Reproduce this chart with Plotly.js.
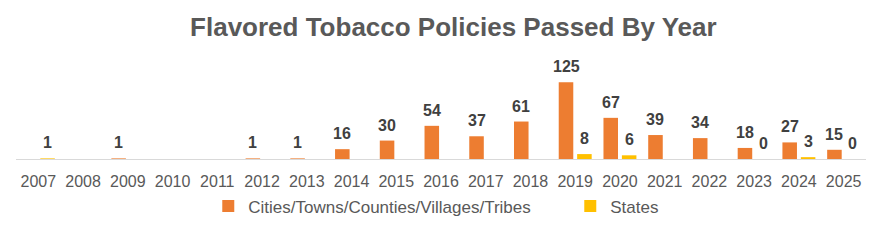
<!DOCTYPE html>
<html>
<head>
<meta charset="utf-8">
<script src="https://cdn.plot.ly/plotly-3.0.1.min.js"></script>
<style>html,body{margin:0;padding:0;background:#fff;}#chart{width:882px;height:250px;}</style>
</head>
<body>
<div id="chart"></div>
<script>
const years = ['2007','2008','2009','2010','2011','2012','2013','2014','2015','2016','2017','2018','2019','2020','2021','2022','2023','2024','2025'];
const cities = [null,null,1,null,null,1,1,16,30,54,37,61,125,67,39,34,18,27,15];
const states = [1,null,null,null,null,null,null,null,null,null,null,null,8,6,null,null,0,3,0];
const seriesNames = ['Cities/Towns/Counties/Villages/Tribes','States'];
const seriesColors = ['#ED7D31','#FFC000'];
const legendWidths = [317, 50];

const FONT = 'Liberation Sans, Arial, sans-serif';
const traces = [cities, states].map((vals, k) => ({
  type: 'bar',
  name: seriesNames[k],
  x: years,
  y: vals,
  marker: {color: seriesColors[k]},
  legendwidth: legendWidths[k],
  hoverinfo: 'skip'
}));

const annotations = [];
[cities, states].forEach((vals, k) => {
  vals.forEach((v, i) => {
    if (v === null) return;
    annotations.push({
      x: i, y: v, xref: 'x', yref: 'y',
      xshift: k === 0 ? -9.2 : 9.2, yshift: 5,
      yanchor: 'bottom', showarrow: false,
      text: String(v),
      font: {family: FONT, size: 16, color: '#404040', weight: 'bold'}
    });
  });
});

const layout = {
  width: 882, height: 250,
  margin: {l: 16, r: 16, t: 73, b: 91},
  paper_bgcolor: '#ffffff', plot_bgcolor: '#ffffff',
  title: {text: '<b>Flavored Tobacco Policies Passed By Year</b>', x: 0.514, xanchor: 'center', y: 0.892, yanchor: 'middle',
          font: {family: FONT, size: 26, color: '#595959'}},
  barmode: 'group', bargap: 0.177, bargroupgap: 0.21,
  xaxis: {type: 'category', range: [-0.5, years.length - 0.5], showline: true, linecolor: '#d9d9d9', linewidth: 1, ticks: '', showgrid: false,
          tickfont: {family: FONT, size: 16, color: '#595959'}, ticklabelstandoff: 8, fixedrange: true},
  yaxis: {range: [0, 140], visible: false, showgrid: false, zeroline: false, fixedrange: true},
  showlegend: true,
  legend: {orientation: 'h', x: 0.2262, xanchor: 'left', y: -0.342, yanchor: 'top',
           font: {family: FONT, size: 17, color: '#595959'}, itemwidth: 30, entrywidthmode: 'pixels',
           traceorder: 'normal'},
  annotations: annotations
};
Plotly.newPlot('chart', traces, layout, {displayModeBar: false, staticPlot: true});
</script>
</body>
</html>
